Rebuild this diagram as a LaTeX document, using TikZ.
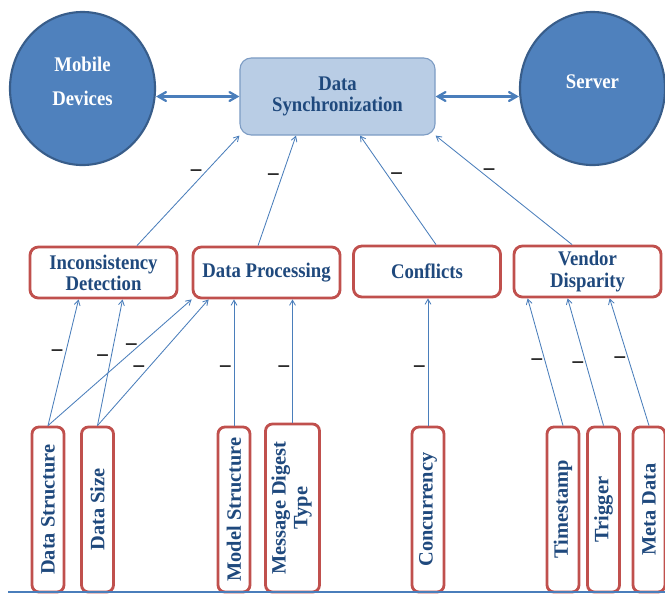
\documentclass[tikz,border=0pt]{standalone}
\usepackage{fontspec}
\setmainfont{Liberation Serif}
\newfontfamily\narrowserif{Liberation Serif}[FakeStretch=0.9]
\usepackage{tikz}
\usetikzlibrary{arrows,shapes.geometric,calc,positioning}
\definecolor{deviceblue}{RGB}{79,129,189}
\definecolor{deviceedge}{RGB}{56,93,138}
\definecolor{syncfill}{RGB}{185,205,229}
\definecolor{syncedge}{RGB}{125,156,196}
\definecolor{boxred}{RGB}{192,80,77}
\definecolor{textblue}{RGB}{31,73,125}
\definecolor{linkblue}{RGB}{74,126,187}
\tikzstyle{device} = [ellipse, minimum width=3.625cm, minimum height=3.825cm, text depth=0.35cm, draw=deviceedge, line width=1.5pt, fill=deviceblue, text=white, align=center, font=\narrowserif\bfseries\fontsize{14.8}{24}\selectfont]
\tikzstyle{sync} = [rectangle, rounded corners=8pt, minimum width=4.875cm, minimum height=1.925cm, draw=syncedge, line width=0.8pt, fill=syncfill, text=textblue, align=center, font=\narrowserif\bfseries\fontsize{14.8}{15}\selectfont]
\tikzstyle{factor} = [rectangle, rounded corners=6pt, minimum width=3.675cm, minimum height=1.275cm, draw=boxred, line width=2pt, fill=white, text=textblue, align=center, font=\narrowserif\bfseries\fontsize{14.8}{15}\selectfont]
\tikzstyle{attr} = [rectangle, rounded corners=5pt, minimum width=0.8cm, minimum height=4.125cm, inner sep=0pt, draw=boxred, line width=2pt, fill=white, text=textblue, font=\bfseries\fontsize{14.5}{14.5}\selectfont]
\tikzstyle{link} = [->, draw=linkblue, line width=0.6pt]
\tikzstyle{sign} = [text=black, inner sep=2pt, font=\bfseries\fontsize{15}{15}\selectfont]

\begin{document}
\begin{tikzpicture}[x=0.025cm,y=-0.025cm,>=angle 60]
    \useasboundingbox (0,0) rectangle (665,594);

    \node[sync] (Sync) at (337.5,96.5) {Data\\Synchronization};
    \node[device] (Mobile) at (82.5,88.5) {Mobile\\Devices};
    \node[device] (Server) at (592.5,88.5) {Server};

    \node[factor] (Incons) at (103.5,272.5) {Inconsistency\\Detection};
    \node[factor] (Proc) [right of=Incons, node distance=4.075cm] {Data Processing};
    \node[factor] (Conflicts) at (427,271.5) {Conflicts};
    \node[factor] (Vendor) [right of=Conflicts, node distance=4.0125cm] {Vendor\\Disparity};

    \node[attr] (DStruct) at (48,509.5) {\rotatebox{90}{Data Structure}};
    \node[attr] (DSize) at (97.5,509.5) {\rotatebox{90}{Data Size}};
    \node[attr] (MStruct) at (234,509.5) {\rotatebox{90}{Model Structure}};
    \node[attr,minimum width=1.35cm,minimum height=4.2cm] (Digest) at (292.5,508) {\rotatebox{90}{\begin{tabular}{@{}c@{}}Message Digest\\[1pt]Type\end{tabular}}};
    \node[attr] (Concur) at (428,509.5) {\rotatebox{90}{Concurrency}};
    \node[attr] (Stamp) at (563,509.5) {\rotatebox{90}{Timestamp}};
    \node[attr] (Trigger) [right of=Stamp, node distance=1.0125cm] {\rotatebox{90}{Trigger}};
    \node[attr] (Meta) at (649,509.5) {\rotatebox{90}{Meta Data}};

    \coordinate (BaseL) at (8,592);
    \coordinate (BaseR) at (665,592);
    \draw[linkblue,line width=1pt] (BaseL) -- (BaseR);

    % two way links to the sync box
    \draw[<->,linkblue,line width=1.6pt] (Sync.west -| Mobile.east) -- (Sync.west);
    \draw[<->,linkblue,line width=1.6pt] (Sync.east) -- (Sync.east -| Server.west);

    \path ($(Incons.north)+(33.5,0)$) edge[link] node[pos=.66,left,sign] {\textendash} (Sync.south west)
          ($(Proc.north)+(-8.5,0)$) edge[link] node[pos=.63,left,sign] {\textendash} ($(Sync.south)+(-41.5,0)$)
          ($(Conflicts.north)+(9,0)$) edge[link] node[pos=.63,right,sign] {\textendash} ($(Sync.south)+(22.5,0)$)
          ($(Vendor.north)+(-15.5,0)$) edge[link] node[pos=.67,right,sign] {\textendash} (Sync.south east);

    \path (DStruct.north) edge[link] node[pos=.58,left,sign] {\textendash} ($(Incons.south west)+(50,0)$)
          (DStruct.north) edge[link] node[pos=.58,above,sign] {\textendash} (Proc.south west)
          (DSize.north) edge[link] node[pos=.54,left,sign] {\textendash} ($(Incons.south west)+(94,0)$)
          (DSize.north) edge[link] node[pos=.45,left,sign] {\textendash} ($(Proc.south west)+(17,0)$)
          (MStruct.north) edge[link] node[pos=.45,left,sign] {\textendash} (MStruct.north |- Proc.south)
          (Digest.north) edge[link] node[pos=.44,left,sign] {\textendash} (Digest.north |- Proc.south)
          (Concur.north) edge[link] node[pos=.45,left,sign] {\textendash} (Concur.north |- Conflicts.south)
          (Stamp.north) edge[link] node[pos=.5,left,sign] {\textendash} ($(Vendor.south west)+(15,0)$)
          (Trigger.north) edge[link] node[pos=.48,left,sign] {\textendash} ($(Vendor.south west)+(55,0)$)
          (Meta.north) edge[link] node[pos=.52,left,sign] {\textendash} ($(Vendor.south west)+(97,0)$);
\end{tikzpicture}
\end{document}
